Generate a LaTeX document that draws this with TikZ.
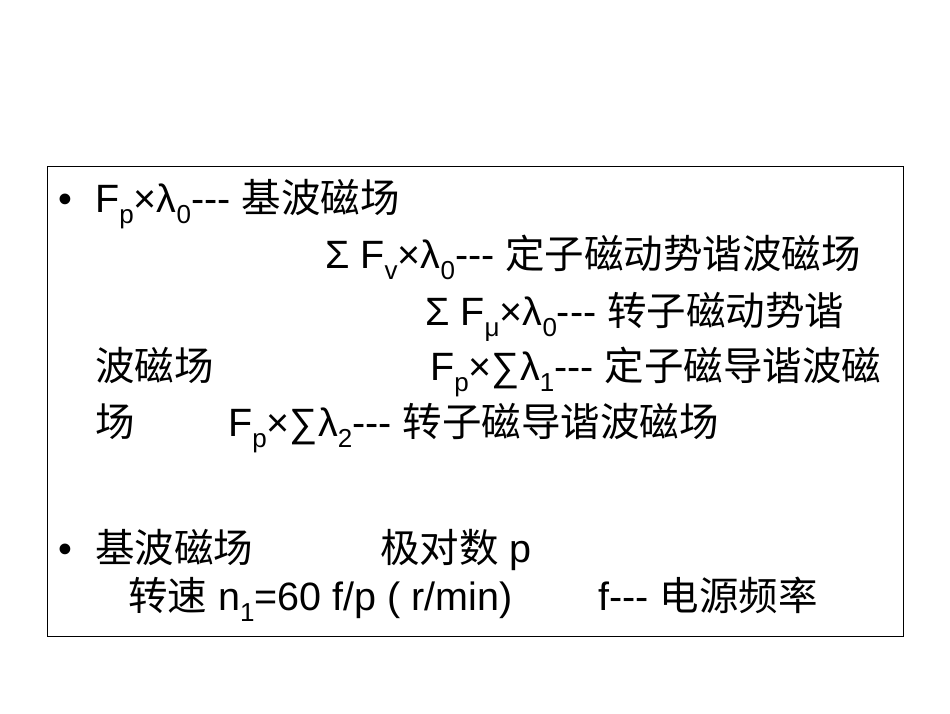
\documentclass[tikz,border=0pt]{standalone}
\usepackage{fontspec}
\setmainfont{Liberation Sans}[Ligatures=NoCommon]
\newfontfamily\cjk{Noto Sans CJK SC}
\newcommand\sbx[1]{\raisebox{-0.28em}{\fontsize{26}{26}\selectfont #1}}
\newcommand\dsh{-{}-{}-}
\begin{document}
\begin{tikzpicture}[x=1pt,y=-1pt,
  txt/.style={anchor=base west,inner sep=0pt,font=\fontsize{39.5}{39.5}\selectfont}]
\useasboundingbox (0,0) rectangle (950,713);
\node[draw=black,line width=0.8pt,minimum width=856,minimum height=470,anchor=north west,inner sep=0pt] (frame) at (47,166) {};
\node[txt] (b1) at (58,212) {•};
\node[txt] (l1) at (95,212) {F\sbx{p}×λ\sbx{0}\dsh{} {\cjk 基波磁场}};
\node[txt] (l2) at (325,268) {Σ F\sbx{v}×λ\sbx{0}\dsh{} {\cjk 定子磁动势谐波磁场}};
\node[txt] (l3) at (425,325) {Σ F\sbx{μ}×λ\sbx{0}\dsh{} {\cjk 转子磁动势谐}};
\node[txt] (l4a) at (95,380) {\cjk 波磁场};
\node[txt] (l4b) at (430,380) {F\sbx{p}×∑λ\sbx{1}\dsh{} {\cjk 定子磁导谐波磁}};
\node[txt] (l5a) at (95,436) {\cjk 场};
\node[txt] (l5b) at (228,436) {F\sbx{p}×∑λ\sbx{2}\dsh{} {\cjk 转子磁导谐波磁场}};
\node[txt] (b2) at (58,562) {•};
\node[txt] (l6a) at (95,562) {\cjk 基波磁场};
\node[txt] (l6b) at (380,562) {{\cjk 极对数} p};
\node[txt] (l7a) at (128,610) {{\cjk 转速} n\sbx{1}=60 f/p ( r/min)};
\node[txt] (l7b) at (598,610) {f\dsh{} {\cjk 电源频率}};
\end{tikzpicture}
\end{document}
